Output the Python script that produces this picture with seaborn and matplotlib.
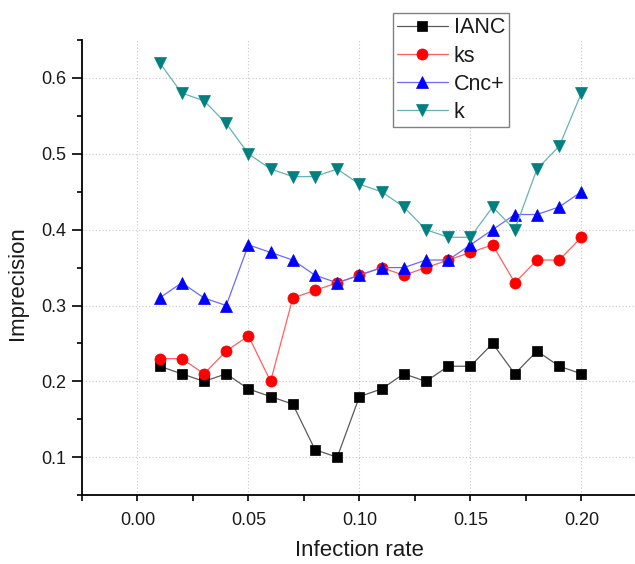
import matplotlib
matplotlib.use("Agg")
import matplotlib.pyplot as plt
from matplotlib.ticker import MultipleLocator
import seaborn as sns
import pandas as pd

# Infection rates on the x axis
rate = [0.01, 0.02, 0.03, 0.04, 0.05, 0.06, 0.07, 0.08, 0.09, 0.10,
        0.11, 0.12, 0.13, 0.14, 0.15, 0.16, 0.17, 0.18, 0.19, 0.20]

# Imprecision of each method
ianc = [0.22, 0.21, 0.20, 0.21, 0.19, 0.18, 0.17, 0.11, 0.10, 0.18,
        0.19, 0.21, 0.20, 0.22, 0.22, 0.25, 0.21, 0.24, 0.22, 0.21]
ks = [0.23, 0.23, 0.21, 0.24, 0.26, 0.20, 0.31, 0.32, 0.33, 0.34,
      0.35, 0.34, 0.35, 0.36, 0.37, 0.38, 0.33, 0.36, 0.36, 0.39]
cnc = [0.31, 0.33, 0.31, 0.30, 0.38, 0.37, 0.36, 0.34, 0.33, 0.34,
       0.35, 0.35, 0.36, 0.36, 0.38, 0.40, 0.42, 0.42, 0.43, 0.45]
k = [0.62, 0.58, 0.57, 0.54, 0.50, 0.48, 0.47, 0.47, 0.48, 0.46,
     0.45, 0.43, 0.40, 0.39, 0.39, 0.43, 0.40, 0.48, 0.51, 0.58]

series_names = ["IANC", "ks", "Cnc+", "k"]
series_values = [ianc, ks, cnc, k]

xtick_values = [0.0, 0.05, 0.10, 0.15, 0.20]
xtick_labels = ["0.00", "0.05", "0.10", "0.15", "0.20"]
ytick_values = [0.1, 0.2, 0.3, 0.4, 0.5, 0.6]
ytick_labels = ["0.1", "0.2", "0.3", "0.4", "0.5", "0.6"]

sns.set_style("ticks")
plt.rcParams["font.family"] = ["Liberation Sans", "DejaVu Sans"]

df = pd.DataFrame({"rate": rate * 4,
                   "value": sum(series_values, []),
                   "method": sum([[n] * len(rate) for n in series_names], [])})

styles = {
    "IANC": dict(marker="s", mc="#000000", lc="#5a5a5a", ms=7.5),
    "ks": dict(marker="o", mc="#ff0000", lc="#ff6060", ms=8),
    "Cnc+": dict(marker="^", mc="#0000ff", lc="#6a6aff", ms=9),
    "k": dict(marker="v", mc="#008080", lc="#66b3b3", ms=9),
}

fig = plt.figure(figsize=(6.35, 5.64), dpi=100)
ax = fig.add_axes([0.129, 0.122, 0.874, 0.807])

for name in series_names:
    st = styles[name]
    sub = df[df["method"] == name]
    sns.lineplot(data=sub, x="rate", y="value", ax=ax, color=st["lc"],
                 linewidth=0.9, marker=st["marker"], markersize=st["ms"],
                 markerfacecolor=st["mc"], markeredgecolor=st["mc"],
                 markeredgewidth=0.5, label=name)

ax.set_xlim(-0.025, 0.225)
ax.set_ylim(0.05, 0.65)
ax.xaxis.set_minor_locator(MultipleLocator(0.025))
ax.yaxis.set_minor_locator(MultipleLocator(0.05))
ax.set_xticks(xtick_values)
ax.set_xticklabels(xtick_labels)
ax.set_yticks(ytick_values)
ax.set_yticklabels(ytick_labels)

ax.grid(True, which="major", linestyle=(0, (1, 2)), color="#c8c8c8", linewidth=0.8)
ax.set_axisbelow(True)

for side in ["top", "right"]:
    ax.spines[side].set_visible(False)
for side in ["left", "bottom"]:
    ax.spines[side].set_linewidth(1.3)
    ax.spines[side].set_color("black")

ax.tick_params(which="both", direction="out", width=1.2, colors="black",
               labelsize=13)
ax.tick_params(axis="x", which="both", length=4, pad=8)
ax.tick_params(axis="y", which="major", length=7, pad=4)
ax.tick_params(axis="y", which="minor", length=3.5)
ax.tick_params(axis="both", labelcolor="#1a1a1a")

ax.set_xlabel("Infection rate", fontsize=16, color="#1a1a1a")
ax.set_ylabel("Imprecision", fontsize=16, color="#1a1a1a")
ax.xaxis.set_label_coords(0.5, -0.099)
ax.yaxis.set_label_coords(-0.098, 0.465)

leg = ax.legend(loc="upper left", bbox_to_anchor=(0.560, 1.059),
                borderaxespad=0, fontsize=15.5, frameon=True, fancybox=False,
                edgecolor="#808080", framealpha=1, handlelength=2.35,
                handletextpad=0.28, labelspacing=0.33, borderpad=0.2)
leg.get_frame().set_linewidth(1.0)
for t in leg.get_texts():
    t.set_color("#1a1a1a")

fig.savefig("out.png", dpi=100)
